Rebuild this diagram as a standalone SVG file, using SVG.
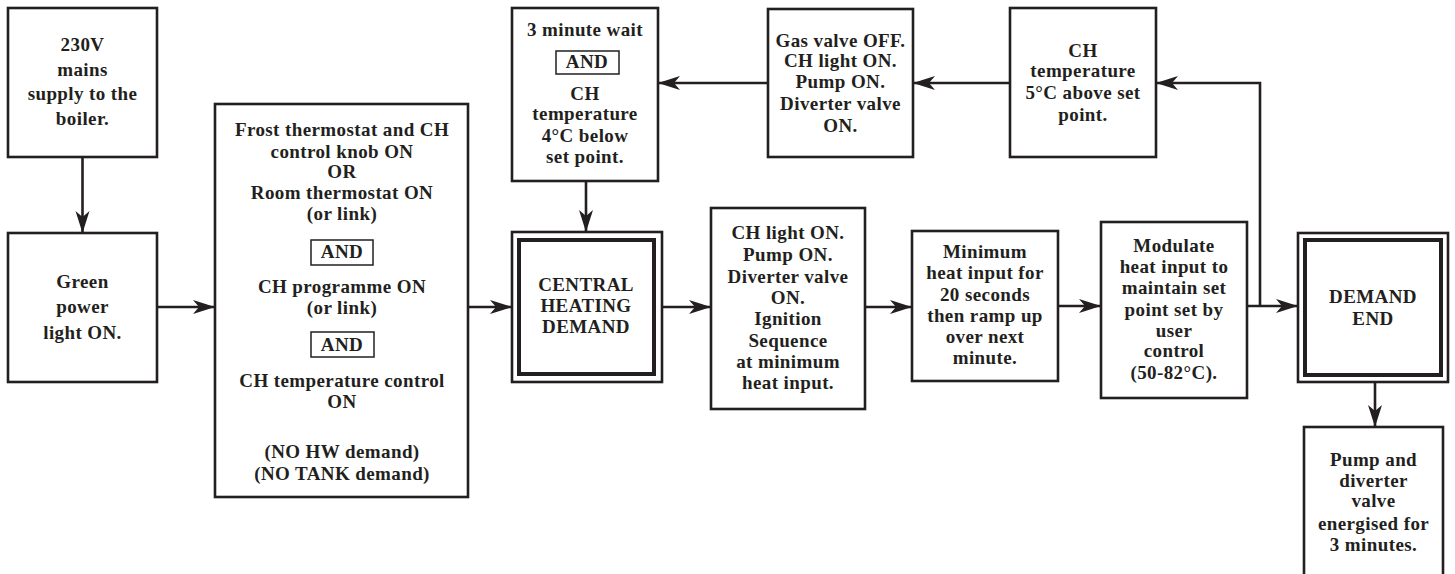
<svg xmlns="http://www.w3.org/2000/svg" width="1455" height="574" viewBox="0 0 1455 574">
<style>
.box{fill:#fff;stroke:#231f20;stroke-width:2.6}
.and{fill:#fff;stroke:#231f20;stroke-width:1.5}
.outer{fill:#fff;stroke:#231f20;stroke-width:2.6}
.inner{fill:none;stroke:#231f20;stroke-width:4}
text{font-family:"Liberation Serif","Times New Roman",serif;font-weight:bold;font-size:19px;letter-spacing:0.4px;fill:#231f20;text-anchor:middle}
.con{fill:none;stroke:#231f20;stroke-width:2.6}
</style>
<defs>
<marker id="ah" markerUnits="userSpaceOnUse" markerWidth="24" markerHeight="16" refX="22" refY="8" orient="auto">
<path d="M0,1 L22,8 L0,15 L6,8 Z" fill="#231f20"/>
</marker>
</defs>
<rect width="1455" height="574" fill="#fff"/>

<g id="connectors">
<line class="con" x1="82.5" y1="157" x2="82.5" y2="233" marker-end="url(#ah)"/>
<line class="con" x1="157" y1="307" x2="215" y2="307" marker-end="url(#ah)"/>
<line class="con" x1="468" y1="307" x2="512" y2="307" marker-end="url(#ah)"/>
<line class="con" x1="586" y1="181" x2="586" y2="232" marker-end="url(#ah)"/>
<line class="con" x1="662" y1="307" x2="711" y2="307" marker-end="url(#ah)"/>
<line class="con" x1="865" y1="307" x2="912" y2="307" marker-end="url(#ah)"/>
<line class="con" x1="1058" y1="306" x2="1101" y2="306" marker-end="url(#ah)"/>
<line class="con" x1="1247" y1="306" x2="1298" y2="306" marker-end="url(#ah)"/>
<polyline class="con" points="1260,306 1260,83 1156,83" marker-end="url(#ah)"/>
<line class="con" x1="1010" y1="83" x2="913" y2="83" marker-end="url(#ah)"/>
<line class="con" x1="768" y1="83" x2="658" y2="83" marker-end="url(#ah)"/>
<line class="con" x1="1375" y1="382" x2="1375" y2="427" marker-end="url(#ah)"/>
</g>

<g id="mains">
<rect class="box" x="8" y="8" width="149" height="149"/>
<text x="82.5" y="51">230V</text>
<text x="82.5" y="76">mains</text>
<text x="82.5" y="100">supply to the</text>
<text x="82.5" y="125">boiler.</text>
</g>

<g id="green">
<rect class="box" x="8" y="233" width="149" height="149"/>
<text x="82.5" y="288">Green</text>
<text x="82.5" y="313">power</text>
<text x="82.5" y="339">light ON.</text>
</g>

<g id="conditions">
<rect class="box" x="215" y="104" width="253" height="393"/>
<text x="342" y="136">Frost thermostat and CH</text>
<text x="342" y="158">control knob ON</text>
<text x="342" y="178">OR</text>
<text x="342" y="199">Room thermostat ON</text>
<text x="342" y="220">(or link)</text>
<rect class="and" x="311" y="240" width="62" height="25"/>
<text x="342" y="258">AND</text>
<text x="342" y="293">CH programme ON</text>
<text x="342" y="314">(or link)</text>
<rect class="and" x="311" y="332" width="63" height="25"/>
<text x="342" y="351">AND</text>
<text x="342" y="387">CH temperature control</text>
<text x="342" y="408">ON</text>
<text x="342" y="458">(NO HW demand)</text>
<text x="342" y="480">(NO TANK demand)</text>
</g>

<g id="wait">
<rect class="box" x="512" y="8" width="146" height="173"/>
<text x="585" y="36">3 minute wait</text>
<rect class="and" x="556" y="51" width="63" height="23"/>
<text x="587" y="68">AND</text>
<text x="585" y="100">CH</text>
<text x="585" y="120">temperature</text>
<text x="585" y="142">4°C below</text>
<text x="585" y="163">set point.</text>
</g>

<g id="gasoff">
<rect class="box" x="768" y="9" width="145" height="148"/>
<text x="840.5" y="47">Gas valve OFF.</text>
<text x="840.5" y="67">CH light ON.</text>
<text x="840.5" y="88">Pump ON.</text>
<text x="840.5" y="110">Diverter valve</text>
<text x="840.5" y="132">ON.</text>
</g>

<g id="above">
<rect class="box" x="1010" y="8" width="146" height="149"/>
<text x="1083" y="57">CH</text>
<text x="1083" y="77">temperature</text>
<text x="1083" y="99">5°C above set</text>
<text x="1083" y="121">point.</text>
</g>

<g id="chdemand">
<rect class="outer" x="512" y="232" width="150" height="150"/>
<rect class="inner" x="519" y="240" width="135" height="134"/>
<text x="586" y="291">CENTRAL</text>
<text x="586" y="312">HEATING</text>
<text x="586" y="333">DEMAND</text>
</g>

<g id="ignition">
<rect class="box" x="711" y="208" width="154" height="201"/>
<text x="788" y="239">CH light ON.</text>
<text x="788" y="261">Pump ON.</text>
<text x="788" y="283">Diverter valve</text>
<text x="788" y="304">ON.</text>
<text x="788" y="325">Ignition</text>
<text x="788" y="347">Sequence</text>
<text x="788" y="368">at minimum</text>
<text x="788" y="389">heat input.</text>
</g>

<g id="minimum">
<rect class="box" x="912" y="231" width="146" height="150"/>
<text x="985" y="258">Minimum</text>
<text x="985" y="279">heat input for</text>
<text x="985" y="301">20 seconds</text>
<text x="985" y="322">then ramp up</text>
<text x="985" y="343">over next</text>
<text x="985" y="364">minute.</text>
</g>

<g id="modulate">
<rect class="box" x="1101" y="222" width="146" height="176"/>
<text x="1174" y="252">Modulate</text>
<text x="1174" y="273">heat input to</text>
<text x="1174" y="294">maintain set</text>
<text x="1174" y="316">point set by</text>
<text x="1174" y="337">user</text>
<text x="1174" y="357">control</text>
<text x="1174" y="379">(50-82°C).</text>
</g>

<g id="demandend">
<rect class="outer" x="1298" y="233" width="150" height="149"/>
<rect class="inner" x="1305" y="240" width="136" height="135"/>
<text x="1373" y="303">DEMAND</text>
<text x="1373" y="325">END</text>
</g>

<g id="pump">
<rect class="box" x="1304" y="427" width="139" height="160"/>
<text x="1373.5" y="466">Pump and</text>
<text x="1373.5" y="487">diverter</text>
<text x="1373.5" y="507">valve</text>
<text x="1373.5" y="530">energised for</text>
<text x="1373.5" y="551">3 minutes.</text>
</g>
</svg>
